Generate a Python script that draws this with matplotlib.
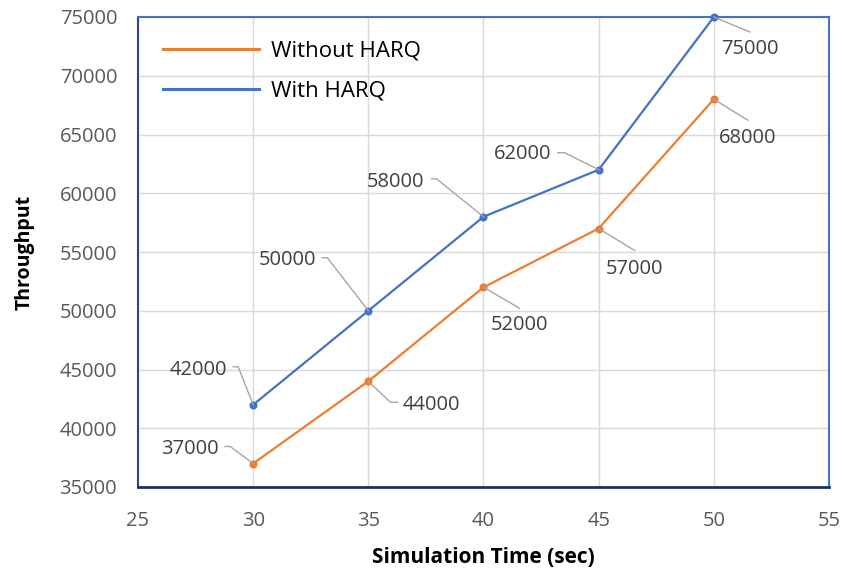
import matplotlib
matplotlib.use("Agg")
import matplotlib.pyplot as plt
from matplotlib.lines import Line2D
from matplotlib.transforms import IdentityTransform

# data
sim_time = [30, 35, 40, 45, 50]
without_harq = [37000, 44000, 52000, 57000, 68000]
with_harq = [42000, 50000, 58000, 62000, 75000]
x_ticks = [25, 30, 35, 40, 45, 50, 55]
y_ticks = [35000, 40000, 45000, 50000, 55000, 60000, 65000, 70000, 75000]

ORANGE = "#ED7D31"
BLUE = "#4472C4"
GREY_TXT = "#595959"

# label layout (pixel offsets from each point): text offset, ha, leader path
without_layout = [
    ((-34, 15), "right", [(0, 0), (-23, 17), (-28, 17)]),
    ((34, -24), "left", [(0, 0), (22, -21), (29, -21)]),
    ((36, -38), "center", [(0, 0), (36, -21)]),
    ((36, -40), "center", [(0, 0), (36, -22)]),
    ((34, -39), "center", [(0, 0), (34, -21)]),
]
with_layout = [
    ((-26, 35), "right", [(0, 0), (-15, 38), (-20, 38)]),
    ((-52, 51), "right", [(0, 0), (-41, 53), (-46, 53)]),
    ((-59, 35), "right", [(0, 0), (-47, 38), (-52, 38)]),
    ((-47, 16), "right", [(0, 0), (-34, 17), (-41, 17)]),
    ((36, -32), "center", [(0, 0), (36, -15)]),
]

plt.rcParams["font.family"] = ["Open Sans", "DejaVu Sans"]

fig = plt.figure(figsize=(8.43, 5.72), dpi=100)
ax = fig.add_axes([138 / 843, 1 - 487 / 572, (829 - 138) / 843, (487 - 17) / 572])

ax.plot(sim_time, without_harq, color=ORANGE, lw=1.6, marker="o", ms=4.8,
        label="Without HARQ", zorder=3, clip_on=False)
ax.plot(sim_time, with_harq, color=BLUE, lw=1.6, marker="o", ms=4.8,
        label="With HARQ", zorder=3, clip_on=False)

ax.set_xlim(25, 55)
ax.set_ylim(35000, 75000)
ax.set_xticks(x_ticks)
ax.set_yticks(y_ticks)
ax.grid(True, color="#D9D9D9", lw=1.0)
ax.set_axisbelow(True)
ax.tick_params(length=0, labelsize=14.5, labelcolor=GREY_TXT)
ax.tick_params(axis="y", pad=15)
ax.tick_params(axis="x", pad=17)

for side in ["top", "right"]:
    ax.spines[side].set_color(BLUE)
    ax.spines[side].set_linewidth(1.5)
ax.spines["left"].set_color("#2F4A80")
ax.spines["left"].set_linewidth(1.5)
ax.spines["bottom"].set_color("#1F3060")
ax.spines["bottom"].set_linewidth(2.0)

ax.set_xlabel("Simulation Time (sec)", fontsize=15, fontweight="bold", labelpad=12)
ax.set_ylabel("Throughput", fontsize=14, fontweight="bold", labelpad=18)

leg = ax.legend(loc="upper left", bbox_to_anchor=(25 / 691, 0.95), frameon=False,
                fontsize=16, handlelength=4.3, handletextpad=0.55,
                labelspacing=0.85, borderaxespad=0, borderpad=0)
for line in leg.get_lines():
    line.set_linewidth(2.2)
    line.set_marker("")


def add_labels(xs, ys, layout):
    for x, y, (off, ha, path) in zip(xs, ys, layout):
        px, py = ax.transData.transform((x, y))
        fig.add_artist(Line2D([px + dx for dx, dy in path],
                              [py + dy for dx, dy in path],
                              transform=IdentityTransform(),
                              color="#A6A6A6", lw=1.0, zorder=2))
        ax.annotate(f"{y}", xy=(x, y), xytext=off, textcoords="offset pixels",
                    ha=ha, va="center", fontsize=14.5, color="#404040")


add_labels(sim_time, without_harq, without_layout)
add_labels(sim_time, with_harq, with_layout)

fig.savefig("out.png", dpi=100)
